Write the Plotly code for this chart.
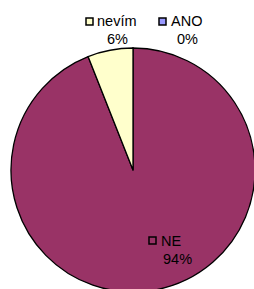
import plotly.graph_objects as go

labels = ["ANO", "NE", "nevím"]
values = [0, 94, 6]
colors = ["#9999FF", "#993366", "#FFFFCC"]

W, H = 256, 293

fig = go.Figure(go.Pie(
    labels=labels, values=values, sort=False, direction="clockwise", rotation=0,
    marker=dict(colors=colors, line=dict(color="black", width=1.3)),
    textinfo="none", hoverinfo="label+percent", showlegend=False,
    domain=dict(x=[11 / W, 255 / W], y=[1 / H, 1 - 48 / H]),
))

total = sum(values)
# label layout: (key box left, key box top, name left x, line1 y, pct center x, line2 y)
layout_pos = {
    "nevím": (86, 18, 97, 21, 117, 39),
    "ANO": (159, 18, 171, 21, 187, 39),
    "NE": (149, 237, 161, 240.5, 177, 258.5),
}

font = dict(family="Liberation Sans, Arial, sans-serif", size=14.5, color="black")
annotations = []
shapes = []
for lab, val, col in zip(labels, values, colors):
    kx, ky, nx, ny, px, py = layout_pos[lab]
    pct = round(100 * val / total)
    shapes.append(dict(type="rect", xref="paper", yref="paper",
                       x0=kx / W, x1=(kx + 7) / W, y0=1 - ky / H, y1=1 - (ky + 7) / H,
                       fillcolor=col, line=dict(color="black", width=1.5)))
    annotations.append(dict(text=lab, xref="paper", yref="paper", x=nx / W, y=1 - ny / H,
                            xanchor="left", yanchor="middle", showarrow=False, font=font,
                            borderpad=0, borderwidth=0))
    annotations.append(dict(text=f"{pct}%", xref="paper", yref="paper", x=px / W, y=1 - py / H,
                            xanchor="center", yanchor="middle", showarrow=False, font=font,
                            borderpad=0, borderwidth=0))

fig.update_layout(
    width=W, height=H, margin=dict(l=0, r=0, t=0, b=0),
    paper_bgcolor="white", plot_bgcolor="white",
    annotations=annotations, shapes=shapes,
)

fig.write_html(
    "out.html",
    config={"displayModeBar": False},
    post_script="document.body.style.margin='0';document.body.style.overflow='hidden';",
)
